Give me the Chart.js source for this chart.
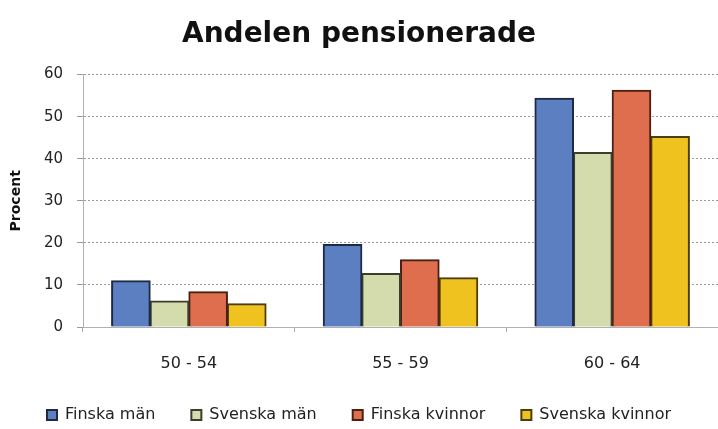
<!DOCTYPE html>
<html>
<head>
<meta charset="utf-8">
<script src="https://cdn.jsdelivr.net/npm/chart.js@4/dist/chart.umd.min.js"></script>
<style>
  html, body { margin: 0; padding: 0; background: #ffffff; }
  #wrap { width: 718px; height: 429px; position: relative; }
</style>
</head>
<body>
<div id="wrap"><canvas id="c" width="718" height="429"></canvas></div>
<script>
const chartTitle = "Andelen pensionerade";
const yAxisTitle = "Procent";
const categories = ["50 - 54", "55 - 59", "60 - 64"];
const seriesNames = ["Finska män", "Svenska män", "Finska kvinnor", "Svenska kvinnor"];
const finskaMan = [11.0, 19.6, 54.4];
const svenskaMan = [6.2, 12.7, 41.5];
const finskaKvinnor = [8.4, 16.0, 56.3];
const svenskaKvinnor = [5.5, 11.7, 45.3];
const yTicks = [0, 10, 20, 30, 40, 50, 60];

const fills = ["#5b7fc1", "#d4dcad", "#de6e4d", "#f0c220"];
const borders = ["#1e2a45", "#3c3d2c", "#4a2014", "#4d3c0c"];
const seriesValues = [finskaMan, svenskaMan, finskaKvinnor, svenskaKvinnor];

const FONT = "'DejaVu Sans', sans-serif";

new Chart(document.getElementById('c'), {
  type: 'bar',
  data: {
    labels: categories,
    datasets: seriesNames.map((name, i) => ({
      label: name,
      data: seriesValues[i],
      backgroundColor: fills[i],
      borderColor: borders[i],
      borderWidth: 2,
      borderSkipped: 'bottom',
      inflateAmount: 0.5,
      categoryPercentage: 0.73,
      barPercentage: 1.0
    }))
  },
  options: {
    responsive: false,
    animation: false,
    devicePixelRatio: 1,
    layout: { padding: { left: 0, right: 0, top: 0, bottom: -4 } },
    plugins: {
      title: {
        display: true,
        text: chartTitle,
        color: '#111',
        font: { family: FONT, size: 28, weight: 'bold' },
        padding: { top: 18, bottom: 23 }
      },
      legend: {
        position: 'bottom',
        labels: {
          color: '#222',
          font: { family: FONT, size: 16 },
          boxWidth: 10,
          boxHeight: 10,
          padding: 36
        }
      },
      tooltip: { enabled: false }
    },
    scales: {
      x: {
        afterFit: (s) => { s.height = 44; },
        grid: { display: true, drawOnChartArea: false, offset: true, tickLength: 5, color: '#aaa' },
        border: { display: true, color: '#b0b0b0', width: 1 },
        ticks: { color: '#222', font: { family: FONT, size: 16 }, padding: 22 }
      },
      y: {
        min: 0, max: 60,
        afterFit: (s) => { s.width = 83; },
        afterBuildTicks: (s) => { s.ticks = yTicks.map(v => ({ value: v })); },
        title: {
          display: true, text: yAxisTitle, color: '#111',
          font: { family: FONT, size: 14, weight: 'bold' },
          padding: { top: 8, bottom: 0 }
        },
        grid: { color: '#9a9a9a', tickLength: 6, tickBorderDash: [] },
        border: { display: true, color: '#b0b0b0', width: 1, dash: [2, 2] },
        ticks: { color: '#222', font: { family: FONT, size: 15 }, padding: 14, stepSize: 10 }
      }
    }
  }
});
</script>
</body>
</html>
